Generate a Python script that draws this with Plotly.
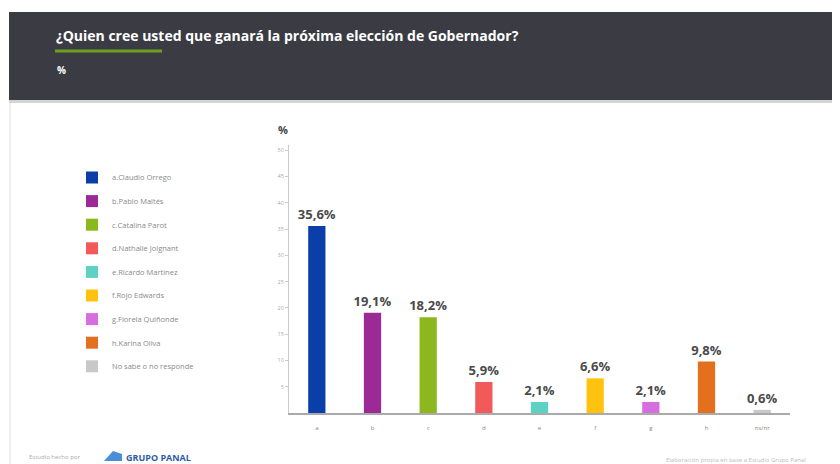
import plotly.graph_objects as go

categories = ["a", "b", "c", "d", "e", "f", "g", "h", "ns/nr"]
values = [35.6, 19.1, 18.2, 5.9, 2.1, 6.6, 2.1, 9.8, 0.6]
names = ["a.Claudio Orrego", "b.Pablo Maltés", "c.Catalina Parot", "d.Nathalie Joignant",
         "e.Ricardo Martínez", "f.Rojo Edwards", "g.Fiorela Quiñonde", "h.Karina Oliva",
         "No sabe o no responde"]
colors = ["#0B3EA8", "#9B2A96", "#8BB81E", "#F25A5A", "#5ED2C2", "#FFC20E", "#D66EDF", "#E2701F", "#C8C8C8"]
y_ticks = [5, 10, 15, 20, 25, 30, 35, 40, 45, 50]

OFF = 8  # page body margin
W, H = 840, 464
L, R, T, B = 289 - OFF, 840 - 790 + OFF, 145 - OFF, 464 - 413 + OFF
PW, PH = W - L - R, H - T - B

def px(x):
    return (x - OFF - L) / PW

def py(y):
    return (H - B - (y - OFF)) / PH

fig = go.Figure()
for cat, v, n, c in zip(categories, values, names, colors):
    fig.add_trace(go.Bar(
        x=[cat], y=[v], name=n, marker_color=c, marker_line_width=0,
        text=[f"{v:.1f}%".replace(".", ",")], textposition="outside", constraintext="none",
        textfont=dict(size=13, color="#4A4A4A", family="Open Sans", weight="bold"),
        cliponaxis=False, legendgroup=n, width=0.31,
    ))

shapes = [
    dict(type="rect", xref="paper", yref="paper", x0=px(9), x1=px(860), y0=py(12), y1=py(100),
         fillcolor="#3B3C43", line_width=0, layer="below"),
    dict(type="rect", xref="paper", yref="paper", x0=px(9), x1=px(860), y0=py(100), y1=py(103),
         fillcolor="#D4D4D6", line_width=0, layer="below"),
    dict(type="line", xref="paper", yref="paper", x0=px(55), x1=px(162), y0=py(51), y1=py(51),
         line=dict(color="#6E9E22", width=3)),
    dict(type="line", xref="paper", yref="paper", x0=px(10), x1=px(10), y0=py(103), y1=py(470),
         line=dict(color="#EEEEEE", width=2), layer="below"),
    dict(type="path", xref="paper", yref="paper",
         path=f"M {px(104)} {py(461)} L {px(113)} {py(451)} L {px(122)} {py(454)} L {px(122)} {py(461)} Z",
         fillcolor="#4A8FD6", line_width=0),
]

annotations = [
    dict(text="¿Quien cree usted que ganará la próxima elección de Gobernador?", xref="paper", yref="paper",
         x=px(54), y=py(35), xanchor="left", yanchor="middle", showarrow=False,
         font=dict(size=14, color="white", family="Open Sans", weight="bold")),
    dict(text="%", xref="paper", yref="paper", x=px(55), y=py(70), xanchor="left", yanchor="middle",
         showarrow=False, font=dict(size=10, color="white", family="Open Sans", weight="bold")),
    dict(text="%", xref="paper", yref="paper", x=px(283), y=py(130), xanchor="center", yanchor="middle",
         showarrow=False, font=dict(size=11, color="#444444", family="Open Sans", weight="bold")),
    dict(text="Estudio hecho por", xref="paper", yref="paper", x=px(27), y=py(457), xanchor="left",
         yanchor="middle", showarrow=False, font=dict(size=6, color="#AAAAAA", family="Open Sans")),
    dict(text="GRUPO PANAL", xref="paper", yref="paper", x=px(124), y=py(457), xanchor="left",
         yanchor="middle", showarrow=False, font=dict(size=9, color="#2E5CA6", family="Open Sans", weight="bold")),
    dict(text="Elaboración propia en base a Estudio Grupo Panal", xref="paper", yref="paper", x=px(664), y=py(460),
         xanchor="left", yanchor="middle", showarrow=False, font=dict(size=6, color="#BBBBBB", family="Open Sans")),
]

fig.update_layout(
    width=W, height=H, margin=dict(l=L, r=R, t=T, b=B),
    paper_bgcolor="white", plot_bgcolor="white",
    barmode="overlay", showlegend=True,
    legend=dict(x=px(72), y=py(163), xanchor="left", yanchor="top", traceorder="grouped",
                font=dict(size=7.5, color="#8A8A8A", family="Open Sans"), tracegroupgap=4.6,
                itemwidth=30, bgcolor="rgba(0,0,0,0)"),
    shapes=shapes, annotations=annotations,
    font=dict(family="Open Sans"),
)
fig.update_xaxes(type="category", categoryorder="array", categoryarray=categories,
                 range=[-0.5, 8.5], showline=True, linecolor="#AAAAAA", linewidth=1.5,
                 ticks="", ticklabelstandoff=8, tickfont=dict(size=6, color="#888888"), showgrid=False)
fig.update_yaxes(range=[0, 51], tickvals=y_ticks, showline=True, linecolor="#CCCCCC", linewidth=1,
                 ticks="outside", ticklen=3, tickcolor="#CCCCCC", tickfont=dict(size=5.5, color="#AAAAAA"),
                 showgrid=False, zeroline=False)

fig.write_html("out.html")
